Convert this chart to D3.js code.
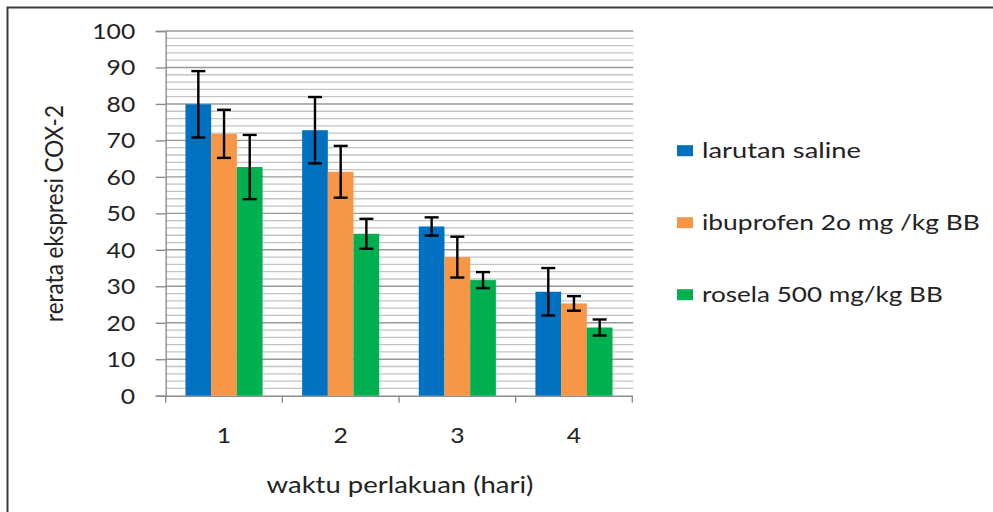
<!DOCTYPE html>
<html>
<head>
<meta charset="utf-8">
<script src="https://cdn.jsdelivr.net/npm/d3@7"></script>
<style>
  html, body { margin: 0; padding: 0; background: #fff; }
  svg { display: block; font-family: Lato, "Open Sans", sans-serif; }
</style>
</head>
<body>
<script>
// ---- data ----
const categories = ["1", "2", "3", "4"];
const seriesNames = ["larutan saline", "ibuprofen 2o mg /kg BB", "rosela 500 mg/kg BB"];
const salineValues = [79.9, 72.8, 46.4, 28.5];
const salineErrors = [9.1, 9.1, 2.5, 6.5];
const ibuprofenValues = [71.8, 61.4, 38.0, 25.3];
const ibuprofenErrors = [6.6, 7.1, 5.6, 2.0];
const roselaValues = [62.7, 44.4, 31.7, 18.7];
const roselaErrors = [8.8, 4.1, 2.2, 2.2];
const yTicks = [0, 10, 20, 30, 40, 50, 60, 70, 80, 90, 100];
const yTitle = "rerata ekspresi COX-2";
const xTitle = "waktu perlakuan (hari)";
const colors = ["#0070C0", "#F79646", "#00B050"];

const seriesValues = [salineValues, ibuprofenValues, roselaValues];
const seriesErrors = [salineErrors, ibuprofenErrors, roselaErrors];

// ---- layout ----
const W = 993, H = 512;
const plot = { left: 165.7, right: 632.3, top: 31, bottom: 395.7 };

const svg = d3.select("body").append("svg").attr("width", W).attr("height", H);

// outer frame (right/bottom edges cut off)
svg.append("rect").attr("x", 7.5).attr("y", 7.5).attr("width", 1100).attr("height", 700)
  .attr("fill", "none").attr("stroke", "#3a3a3a").attr("stroke-width", 2);

const y = d3.scaleLinear().domain([0, 100]).range([plot.bottom, plot.top]);
const x = d3.scaleBand().domain(categories).range([plot.left, plot.right]).padding(0);
const xs = d3.scaleBand().domain(d3.range(seriesNames.length)).range([0, x.bandwidth()])
  .paddingInner(0).paddingOuter(0.77);

// minor gridlines every 2
const minor = d3.range(0, 101, 2).filter(v => v % 10 !== 0);
svg.append("g").selectAll("line").data(minor).join("line")
  .attr("x1", plot.left).attr("x2", plot.right + 1)
  .attr("y1", d => y(d)).attr("y2", d => y(d))
  .attr("stroke", "#c4c4c4").attr("stroke-width", 1.3);
// major gridlines
svg.append("g").selectAll("line").data(yTicks.filter(v => v > 0)).join("line")
  .attr("x1", plot.left).attr("x2", plot.right + 1)
  .attr("y1", d => y(d)).attr("y2", d => y(d))
  .attr("stroke", "#989898").attr("stroke-width", 1.4);

// y axis
const yAxis = svg.append("g").attr("transform", `translate(${plot.left},0)`)
  .call(d3.axisLeft(y).tickValues(yTicks).tickSize(10).tickPadding(18).tickFormat(d3.format("d")));
yAxis.select(".domain").attr("stroke", "#8c8c8c").attr("stroke-width", 1.4);
yAxis.selectAll(".tick line").attr("stroke", "#8c8c8c").attr("stroke-width", 1.4);
yAxis.selectAll(".tick text").attr("font-size", 21).attr("fill", "#222")
  .attr("font-family", "Lato, sans-serif");

// x axis
const xAxis = svg.append("g").attr("transform", `translate(0,${plot.bottom})`)
  .call(d3.axisBottom(x).tickSize(0).tickPadding(0));
xAxis.select(".domain").attr("stroke", "#8c8c8c").attr("stroke-width", 1.4);
xAxis.selectAll(".tick text").remove();
const boundaries = categories.map(c => x(c)).concat([x(categories[categories.length - 1]) + x.bandwidth()]);
xAxis.append("g").selectAll("line").data(boundaries).join("line")
  .attr("x1", d => d).attr("x2", d => d).attr("y1", 0).attr("y2", 7)
  .attr("stroke", "#8c8c8c").attr("stroke-width", 1.4);

// bars
const groups = svg.append("g").selectAll("g").data(categories).join("g")
  .attr("transform", c => `translate(${x(c)},0)`);
seriesNames.forEach((s, si) => {
  groups.append("rect")
    .attr("x", xs(si)).attr("width", xs.bandwidth())
    .attr("y", (c, ci) => y(seriesValues[si][ci]))
    .attr("height", (c, ci) => y(0) - y(seriesValues[si][ci]))
    .attr("fill", colors[si]);
});
// error bars
const cap = 14;
seriesNames.forEach((s, si) => {
  const cx = xs(si) + xs.bandwidth() / 2;
  const eb = groups.append("g").attr("stroke", "#000").attr("stroke-width", 2.4);
  eb.append("line").attr("x1", cx).attr("x2", cx)
    .attr("y1", (c, ci) => y(seriesValues[si][ci] + seriesErrors[si][ci]))
    .attr("y2", (c, ci) => y(seriesValues[si][ci] - seriesErrors[si][ci]));
  eb.append("line").attr("x1", cx - cap / 2).attr("x2", cx + cap / 2)
    .attr("y1", (c, ci) => y(seriesValues[si][ci] + seriesErrors[si][ci]))
    .attr("y2", (c, ci) => y(seriesValues[si][ci] + seriesErrors[si][ci]));
  eb.append("line").attr("x1", cx - cap / 2).attr("x2", cx + cap / 2)
    .attr("y1", (c, ci) => y(seriesValues[si][ci] - seriesErrors[si][ci]))
    .attr("y2", (c, ci) => y(seriesValues[si][ci] - seriesErrors[si][ci]));
});

// helper: horizontal stretch to mimic the wide source rendering
function stretch(textNode, target) {
  const w = textNode.getComputedTextLength();
  return w > 0 ? target / w : 1;
}

// scale y tick labels horizontally (reference "100" is ~43px wide)
let tickScale = 1;
yAxis.selectAll(".tick text").each(function (d) { if (d === 100) tickScale = stretch(this, 43); });
yAxis.selectAll(".tick text").each(function () {
  const t = d3.select(this);
  const tx = +t.attr("x");
  t.attr("x", 0).attr("dy", null).attr("y", 0)
   .attr("dominant-baseline", null)
   .attr("transform", `translate(${tx - 2.5},7.5) scale(${tickScale},1)`);
});

// x tick labels
svg.append("g").selectAll("text").data(categories).join("text")
  .attr("text-anchor", "middle").attr("font-size", 21).attr("fill", "#222")
  .attr("transform", c => `translate(${x(c) + x.bandwidth() / 2},443) scale(${tickScale},1)`)
  .text(c => c);

// x title
const xt = svg.append("text").attr("text-anchor", "middle").attr("font-size", 24).attr("fill", "#222")
  .text(xTitle);
xt.attr("transform", `translate(400,493) scale(${stretch(xt.node(), 267)},1)`);

// y title (rotated)
const yt = svg.append("text").attr("text-anchor", "middle").attr("font-size", 23).attr("fill", "#222")
  .text(yTitle);
yt.attr("transform", `translate(63,213.5) rotate(-90) scale(${stretch(yt.node(), 217)},1.12)`);

// legend
const legendTargets = [159, 278, 241];
const legend = svg.append("g");
seriesNames.forEach((s, i) => {
  const ly = 150.7 + i * 72;
  legend.append("rect").attr("x", 677).attr("y", ly - 5.5).attr("width", 16).attr("height", 11)
    .attr("fill", colors[i]);
  const t = legend.append("text").attr("font-size", 22).attr("fill", "#222").text(s);
  t.attr("transform", `translate(702,${ly + 7}) scale(${stretch(t.node(), legendTargets[i])},1)`);
});
</script>
</body>
</html>
